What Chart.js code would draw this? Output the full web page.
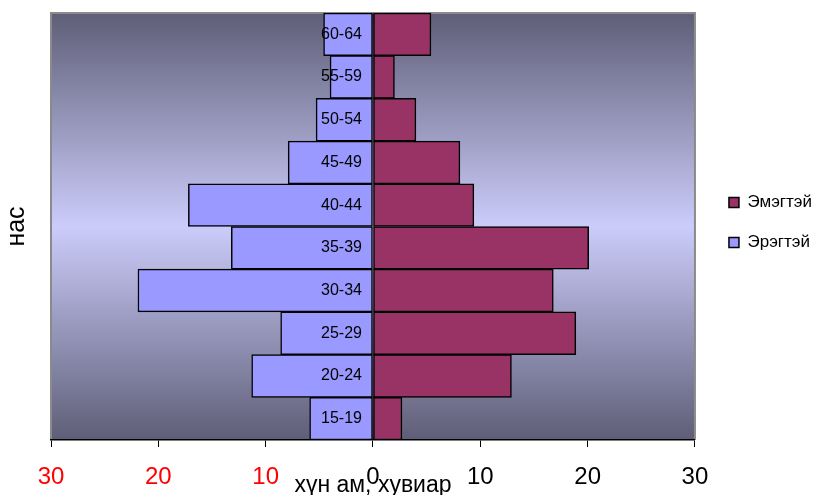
<!DOCTYPE html>
<html>
<head>
<meta charset="utf-8">
<script src="https://cdn.jsdelivr.net/npm/chart.js@4"></script>
<style>
  body { margin: 0; background: #fff; }
  #wrap { width: 816px; height: 495px; position: relative; }
</style>
</head>
<body>
<div id="wrap"><canvas id="pyramid"></canvas></div>
<script>
// насны бүлэг, доороос дээш
const ages = ['15-19', '20-24', '25-29', '30-34', '35-39', '40-44', '45-49', '50-54', '55-59', '60-64']
const eregtei = [5.9, 11.3, 8.6, 21.9, 13.2, 17.2, 7.9, 5.3, 4.0, 4.6]
const emegtei = [2.7, 12.9, 18.9, 16.8, 20.1, 9.4, 8.1, 4.0, 2.0, 5.4]
const seriesNames = ['Эмэгтэй', 'Эрэгтэй']
const xTitle = 'хүн ам, хувиар'
const yTitle = 'нас'

const FONT = "'Liberation Sans', Arial, sans-serif"

// plot background gradient + grey frame
const plotBg = {
    id: 'plotBg',
    beforeDraw(chart) {
        const { ctx, chartArea: a } = chart
        const g = ctx.createLinearGradient(0, a.top, 0, a.bottom)
        g.addColorStop(0, '#5e5e77')
        g.addColorStop(0.5, '#ccccfb')
        g.addColorStop(1, '#5e5e77')
        ctx.save()
        ctx.fillStyle = g
        ctx.fillRect(a.left, a.top, a.right - a.left, a.bottom - a.top)
        ctx.strokeStyle = '#8a8a8a'
        ctx.lineWidth = 2
        ctx.beginPath()
        ctx.moveTo(a.left, a.bottom)
        ctx.lineTo(a.left, a.top)
        ctx.lineTo(a.right, a.top)
        ctx.lineTo(a.right, a.bottom)
        ctx.stroke()
        ctx.restore()
    }
}

// age labels sit on top of the bars, just left of zero
const ageLabels = {
    id: 'ageLabels',
    afterDatasetsDraw(chart) {
        const { ctx, scales: { x, y } } = chart
        const x0 = x.getPixelForValue(0)
        ctx.save()
        ctx.font = '16px ' + FONT
        ctx.fillStyle = '#000'
        ctx.textAlign = 'right'
        ctx.textBaseline = 'middle'
        ages.forEach((a, i) => {
            ctx.fillText(a, x0 - 11, y.getPixelForValue(i))
        })
        ctx.restore()
    }
}

// nudge the legend a bit right and up, away from the plot
const legendNudge = {
    id: 'legendNudge',
    afterLayout(chart) {
        const lg = chart.legend
        if (!lg) return
        lg.left += 11
        lg.right += 11
        lg.top -= 4
        lg.bottom -= 4
    }
}

new Chart(document.getElementById('pyramid'), {
    type: 'bar',
    data: {
        labels: ages,
        datasets: [{
            label: seriesNames[0],
            data: emegtei,
            backgroundColor: '#993366',
            borderColor: '#000',
            borderWidth: 1.5,
            borderSkipped: false
        }, {
            label: seriesNames[1],
            data: eregtei.map(v => -v),
            backgroundColor: '#9999ff',
            borderColor: '#000',
            borderWidth: 1.5,
            borderSkipped: false
        }]
    },
    options: {
        indexAxis: 'y',
        responsive: true,
        maintainAspectRatio: false,
        animation: false,
        devicePixelRatio: 1,
        barPercentage: 1,
        categoryPercentage: 1,
        layout: { padding: { top: 13, right: 5, left: 0, bottom: 0 } },
        scales: {
            x: {
                stacked: true,
                min: -30,
                max: 30,
                ticks: {
                    stepSize: 10,
                    padding: 16,
                    font: { size: 24, family: FONT },
                    color: c => c.tick.value < 0 ? '#ff0000' : '#000',
                    callback: v => Math.abs(v)
                },
                grid: { drawOnChartArea: false, tickLength: 7, color: '#000', lineWidth: 1 },
                border: { color: '#000', width: 1.5 },
                title: {
                    display: true,
                    text: xTitle,
                    color: '#000',
                    font: { size: 23, family: FONT },
                    padding: { top: 0, bottom: -4 }
                },
                afterFit: s => { s.height = 55 }
            },
            y: {
                stacked: true,
                reverse: true,
                ticks: { display: false },
                grid: { display: false },
                border: { display: false },
                title: {
                    display: true,
                    text: yTitle,
                    color: '#000',
                    font: { size: 25, family: FONT },
                    padding: { top: 2, bottom: 0 }
                },
                afterFit: s => { s.width = 51 }
            }
        },
        plugins: {
            legend: {
                position: 'right',
                fullSize: false,
                labels: {
                    boxWidth: 10,
                    boxHeight: 10,
                    padding: 23,
                    color: '#000',
                    font: { size: 17, family: FONT }
                }
            },
            tooltip: { enabled: false }
        }
    },
    plugins: [plotBg, ageLabels, legendNudge]
})
</script>
</body>
</html>
